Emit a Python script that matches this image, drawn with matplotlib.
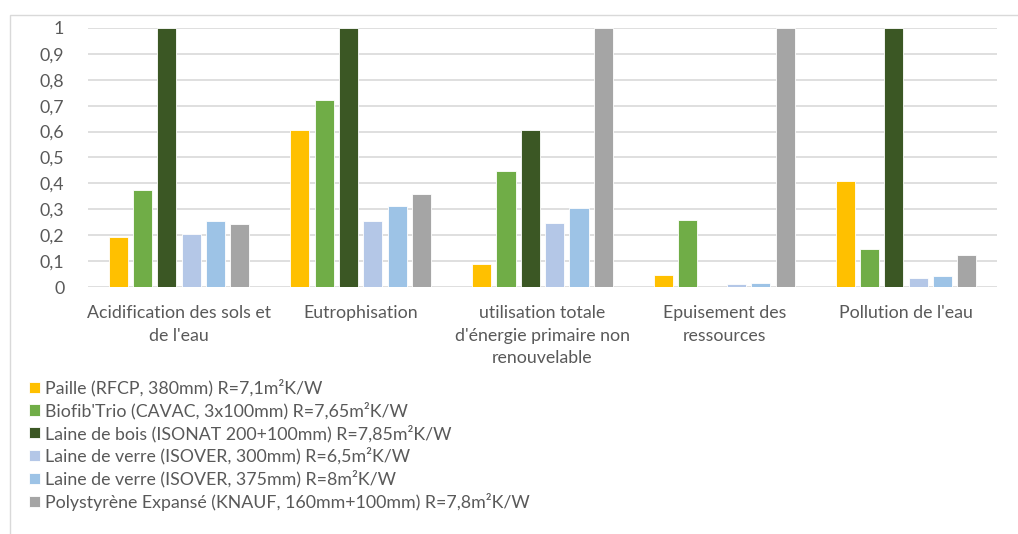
import matplotlib
matplotlib.use("Agg")
import matplotlib.pyplot as plt
from matplotlib.patches import Rectangle
import numpy as np

plt.rcParams["font.family"] = ["Lato", "DejaVu Sans"]

categories = [
    "Acidification des sols et\nde l'eau",
    "Eutrophisation",
    "utilisation totale\nd'énergie primaire non\nrenouvelable",
    "Epuisement des\nressources",
    "Pollution de l'eau",
]
series = [
    "Paille (RFCP, 380mm) R=7,1m²K/W",
    "Biofib'Trio (CAVAC, 3x100mm) R=7,65m²K/W",
    "Laine de bois (ISONAT 200+100mm) R=7,85m²K/W",
    "Laine de verre (ISOVER, 300mm) R=6,5m²K/W",
    "Laine de verre (ISOVER, 375mm) R=8m²K/W",
    "Polystyrène Expansé (KNAUF, 160mm+100mm) R=7,8m²K/W",
]
paille = [0.193, 0.607, 0.089, 0.046, 0.410]
biofib = [0.376, 0.723, 0.448, 0.257, 0.147]
laine_bois = [1.0, 1.0, 0.607, 0.0, 1.0]
verre_300 = [0.205, 0.255, 0.248, 0.010, 0.035]
verre_375 = [0.255, 0.312, 0.304, 0.014, 0.043]
polystyrene = [0.243, 0.359, 1.0, 1.0, 0.124]
colors = ["#FFC000", "#70AD47", "#3B5724", "#B4C7E7", "#9DC3E6", "#A5A5A5"]
yticks = [0, 0.1, 0.2, 0.3, 0.4, 0.5, 0.6, 0.7, 0.8, 0.9, 1]

values = [paille, biofib, laine_bois, verre_300, verre_375, polystyrene]
text_color = "#595959"
fs = 12.8

fig = plt.figure(figsize=(10.18, 5.34), dpi=100)
# outer chart frame
fig.patches.append(Rectangle((10 / 1018, -0.1), 1.2, 1.1 - 15 / 534,
                             transform=fig.transFigure, fill=False,
                             edgecolor="#D9D9D9", linewidth=1))

ax = fig.add_axes([88 / 1018, 1 - 287 / 534, 909 / 1018, 259 / 534])
x = np.arange(len(categories))
pitch = 0.1337
width = 0.105
handles = []
for i, (vals, col) in enumerate(zip(values, colors)):
    b = ax.bar(x + (i - 2.5) * pitch, vals, width, color=col,
               edgecolor="white", linewidth=0.6, zorder=3)
    handles.append(b)

ax.set_xlim(-0.5, len(categories) - 0.5)
ax.set_ylim(0, 1)
ax.set_yticks(yticks)
ax.set_yticklabels([f"{t:g}".replace(".", ",") for t in yticks],
                   color=text_color, fontsize=fs)
ax.set_xticks(x)
ax.set_xticklabels(categories, color=text_color, fontsize=fs,
                   linespacing=1.5, va="top")
ax.tick_params(axis="both", length=0)
ax.tick_params(axis="y", pad=17)
ax.tick_params(axis="x", pad=13)
ax.yaxis.grid(True, color="#D9D9D9", linewidth=1.2, zorder=0)
for s in ax.spines.values():
    s.set_visible(False)

leg = ax.legend(handles, series, loc="upper left",
                bbox_to_anchor=(22 / 1018, 1 - 372 / 534),
                bbox_transform=fig.transFigure, frameon=False,
                fontsize=fs, handlelength=0.6, handleheight=0.6,
                handletextpad=0.3, labelspacing=0.29, borderaxespad=0)
for t in leg.get_texts():
    t.set_color(text_color)

fig.savefig("out.png", dpi=100, facecolor="white")
